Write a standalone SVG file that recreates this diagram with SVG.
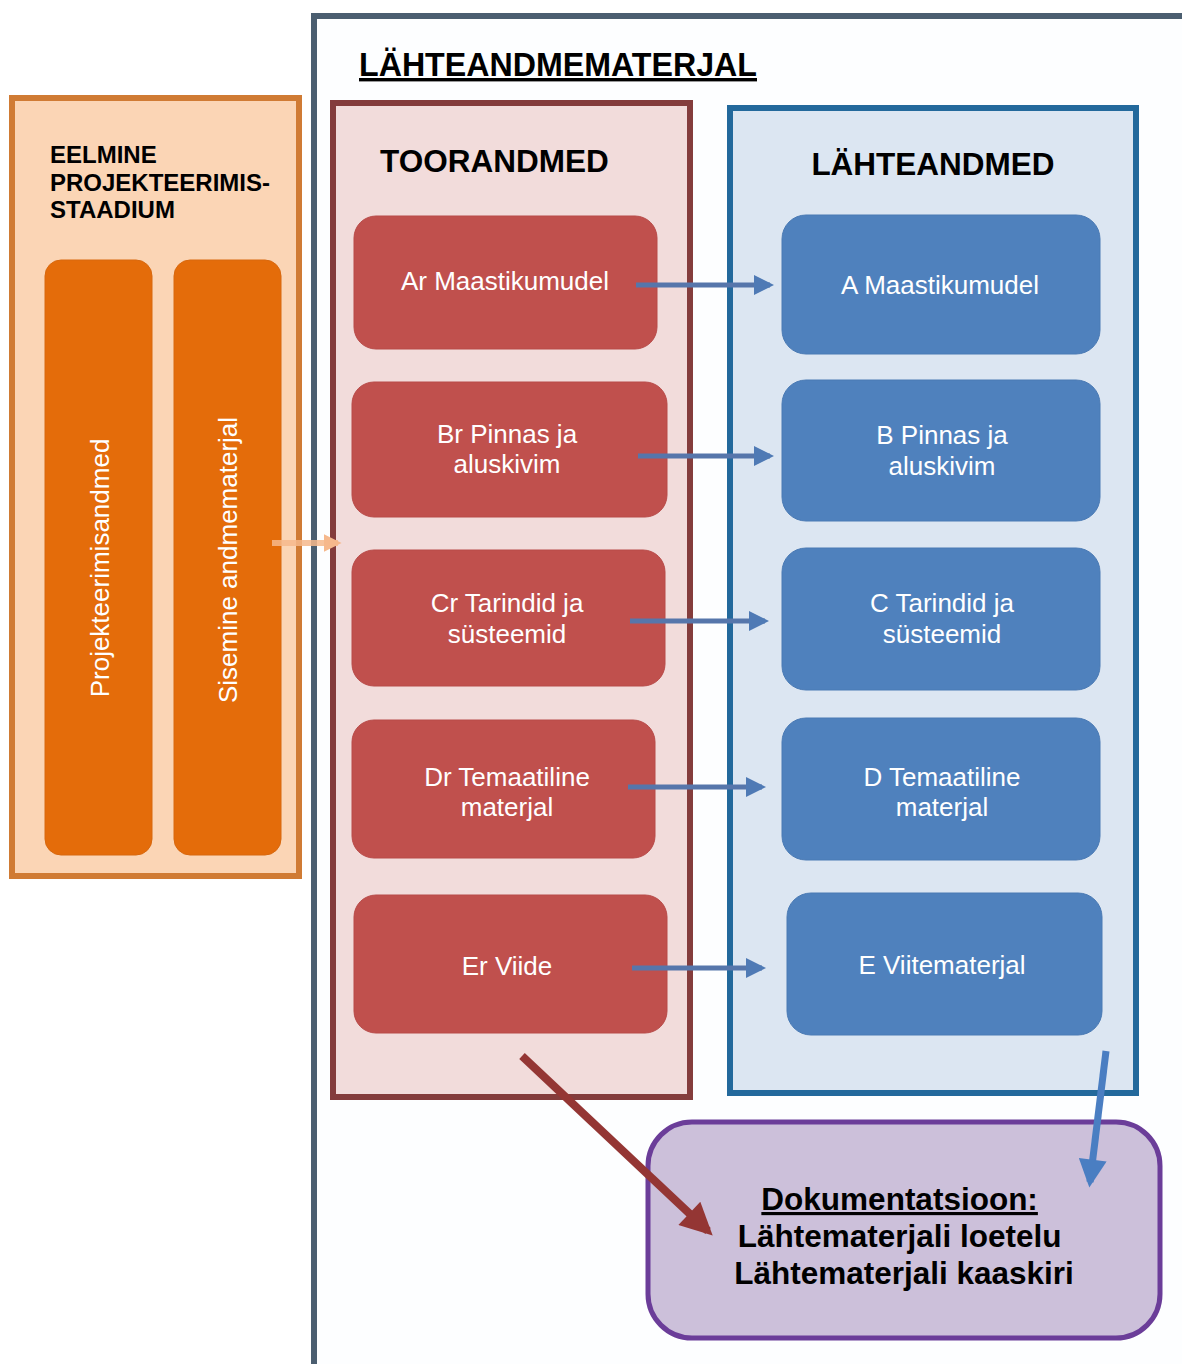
<svg xmlns="http://www.w3.org/2000/svg" width="1182" height="1364" viewBox="0 0 1182 1364">
  <style>
    .hdr { font-family: "Liberation Sans", Arial, sans-serif; font-weight: bold; fill: #000; }
    .lbl { font-family: "Liberation Sans", Arial, sans-serif; font-size: 26px; fill: #fff; text-anchor: middle; }
    .raw { fill: #c0504d; stroke: #b84a48; stroke-width: 1; }
    .src { fill: #4f81bd; stroke: #4a7ab4; stroke-width: 1; }
    .pillar { fill: #e46c0a; stroke: #d8680e; stroke-width: 1; }
    .flow { stroke: #5676ab; stroke-width: 5; fill: none; }
  </style>
  <defs>
    <marker id="headBlue" viewBox="0 0 10 10" refX="8" refY="5" markerWidth="5" markerHeight="4" orient="auto" markerUnits="strokeWidth">
      <path d="M0,0 L10,5 L0,10 z" fill="#4f7ab5"/>
    </marker>
    <marker id="headRed" viewBox="0 0 10 10" refX="8" refY="5" markerWidth="4.5" markerHeight="4" orient="auto" markerUnits="strokeWidth">
      <path d="M0,0 L10,5 L0,10 z" fill="#943634"/>
    </marker>
    <marker id="headDown" viewBox="0 0 10 10" refX="8" refY="5" markerWidth="4.5" markerHeight="4" orient="auto" markerUnits="strokeWidth">
      <path d="M0,0 L10,5 L0,10 z" fill="#4a7ec2"/>
    </marker>
    <marker id="headOrange" viewBox="0 0 10 10" refX="8" refY="5" markerWidth="3" markerHeight="3" orient="auto" markerUnits="strokeWidth">
      <path d="M0,0 L10,5 L0,10 z" fill="#f6b88c"/>
    </marker>
  </defs>

  <rect width="1182" height="1364" fill="#ffffff"/>

  <!-- outer frame: source material -->
  <g id="frame">
    <rect x="314" y="16" width="900" height="1400" fill="#fdfeff" stroke="#4b5e70" stroke-width="6"/>
    <text class="hdr" x="359" y="76" font-size="34" textLength="398" lengthAdjust="spacingAndGlyphs" text-decoration="underline">LÄHTEANDMEMATERJAL</text>
  </g>

  <!-- previous design stage -->
  <g id="previous-stage">
    <rect x="12" y="98" width="287" height="778" fill="#fbd5b5" stroke="#d07b34" stroke-width="6"/>
    <text class="hdr" font-size="24">
      <tspan x="50" y="163">EELMINE</tspan>
      <tspan x="50" y="191">PROJEKTEERIMIS-</tspan>
      <tspan x="50" y="218">STAADIUM</tspan>
    </text>
  </g>
  <g id="pillar-design-data">
    <rect class="pillar" x="45" y="260" width="107" height="595" rx="16"/>
    <text class="lbl" transform="translate(100,568) rotate(-90)" x="0" y="9">Projekteerimisandmed</text>
  </g>
  <g id="pillar-internal">
    <rect class="pillar" x="174" y="260" width="107" height="595" rx="16"/>
    <text class="lbl" transform="translate(228,560) rotate(-90)" x="0" y="9">Sisemine andmematerjal</text>
  </g>

  <!-- raw data column -->
  <g id="raw-data">
    <rect x="333" y="103" width="357" height="994" fill="#f2dcdb" stroke="#843c3c" stroke-width="6"/>
    <text class="hdr" x="380" y="172" font-size="31.5">TOORANDMED</text>
  </g>

  <!-- source data column -->
  <g id="source-data">
    <rect x="730" y="108" width="406" height="985" fill="#dce6f2" stroke="#23699c" stroke-width="6"/>
    <text class="hdr" x="933" y="175" font-size="31.5" text-anchor="middle">LÄHTEANDMED</text>
  </g>

  <g id="node-ar">
    <rect class="raw" x="354" y="216" width="303" height="133" rx="22"/>
    <text class="lbl" x="505" y="290">Ar Maastikumudel</text>
  </g>
  <g id="node-br">
    <rect class="raw" x="352" y="382" width="315" height="135" rx="22"/>
    <text class="lbl"><tspan x="507" y="443">Br Pinnas ja</tspan><tspan x="507" y="473">aluskivim</tspan></text>
  </g>
  <g id="node-cr">
    <rect class="raw" x="352" y="550" width="313" height="136" rx="22"/>
    <text class="lbl"><tspan x="507" y="612">Cr Tarindid ja</tspan><tspan x="507" y="643">süsteemid</tspan></text>
  </g>
  <g id="node-dr">
    <rect class="raw" x="352" y="720" width="303" height="138" rx="22"/>
    <text class="lbl"><tspan x="507" y="786">Dr Temaatiline</tspan><tspan x="507" y="816">materjal</tspan></text>
  </g>
  <g id="node-er">
    <rect class="raw" x="354" y="895" width="313" height="138" rx="22"/>
    <text class="lbl" x="507" y="975">Er Viide</text>
  </g>

  <g id="node-a">
    <rect class="src" x="782" y="215" width="318" height="139" rx="24"/>
    <text class="lbl" x="940" y="294">A Maastikumudel</text>
  </g>
  <g id="node-b">
    <rect class="src" x="782" y="380" width="318" height="141" rx="24"/>
    <text class="lbl"><tspan x="942" y="444">B Pinnas ja</tspan><tspan x="942" y="475">aluskivim</tspan></text>
  </g>
  <g id="node-c">
    <rect class="src" x="782" y="548" width="318" height="142" rx="24"/>
    <text class="lbl"><tspan x="942" y="612">C Tarindid ja</tspan><tspan x="942" y="643">süsteemid</tspan></text>
  </g>
  <g id="node-d">
    <rect class="src" x="782" y="718" width="318" height="142" rx="24"/>
    <text class="lbl"><tspan x="942" y="786">D Temaatiline</tspan><tspan x="942" y="816">materjal</tspan></text>
  </g>
  <g id="node-e">
    <rect class="src" x="787" y="893" width="315" height="142" rx="24"/>
    <text class="lbl" x="942" y="974">E Viitematerjal</text>
  </g>

  <!-- documentation -->
  <g id="documentation">
    <rect x="648" y="1122" width="512" height="216" rx="44" fill="#ccc0da" stroke="#6b3d99" stroke-width="5"/>
    <text class="hdr" font-size="31.5" text-anchor="middle">
      <tspan x="904" y="1210" text-decoration="underline">Dokumentatsioon:</tspan>
      <tspan x="904" y="1247">Lähtematerjali loetelu</tspan>
      <tspan x="904" y="1284">Lähtematerjali kaaskiri</tspan>
    </text>
  </g>

  <!-- connectors -->
  <g id="connectors">
    <line x1="272" y1="543" x2="338" y2="543" stroke="#f6b88c" stroke-width="6" stroke-opacity="0.85" marker-end="url(#headOrange)"/>
    <line class="flow" x1="636" y1="285" x2="770" y2="285" marker-end="url(#headBlue)"/>
    <line class="flow" x1="638" y1="456" x2="770" y2="456" marker-end="url(#headBlue)"/>
    <line class="flow" x1="630" y1="621" x2="765" y2="621" marker-end="url(#headBlue)"/>
    <line class="flow" x1="628" y1="787" x2="762" y2="787" marker-end="url(#headBlue)"/>
    <line class="flow" x1="632" y1="968" x2="762" y2="968" marker-end="url(#headBlue)"/>
    <line x1="522" y1="1056" x2="708" y2="1231" stroke="#943634" stroke-width="8" marker-end="url(#headRed)"/>
    <line x1="1106" y1="1051" x2="1090" y2="1182" stroke="#4a7ec2" stroke-width="7" marker-end="url(#headDown)"/>
  </g>
</svg>
